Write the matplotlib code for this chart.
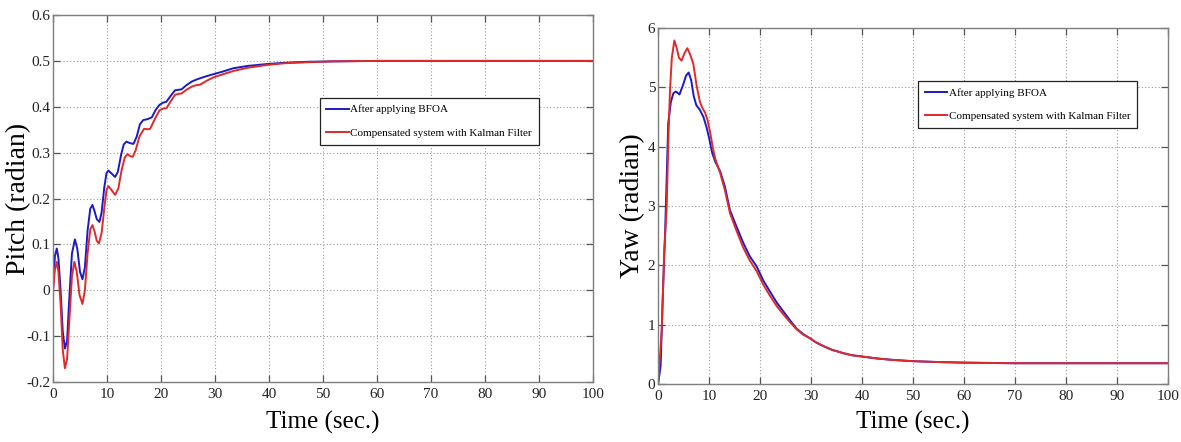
import matplotlib
matplotlib.use("Agg")
import matplotlib.pyplot as plt

# ---------------- data ----------------
pitch_t_blue = [0, 0.35, 0.7, 1.0, 1.4, 1.8, 2.2, 2.6, 3.0, 3.5, 4.05, 4.5, 5.0, 5.45, 5.9, 6.4,
                6.9, 7.3, 7.7, 8.1, 8.6, 9.0, 9.5, 9.9, 10.25, 10.8, 11.5, 12.0, 12.6, 13.1, 13.6,
                14.2, 14.9, 15.5, 16.1, 16.7, 17.5, 18.3, 19.0, 19.7, 20.4, 21.0, 21.8, 22.6, 23.2,
                23.8, 24.7, 25.7, 26.5, 27.2, 28.5, 29.7, 31.5, 33.4, 36, 39.5, 43, 47, 52, 60,
                70, 80, 90, 100]
pitch_blue = [0.0, 0.075, 0.091, 0.07, 0.0, -0.09, -0.127, -0.11, -0.02, 0.08, 0.111, 0.09, 0.04,
              0.024, 0.05, 0.13, 0.178, 0.186, 0.172, 0.155, 0.149, 0.17, 0.225, 0.255, 0.261,
              0.255, 0.247, 0.258, 0.295, 0.318, 0.324, 0.321, 0.319, 0.335, 0.362, 0.371, 0.373,
              0.377, 0.393, 0.404, 0.409, 0.411, 0.424, 0.436, 0.437, 0.438, 0.447, 0.455, 0.459,
              0.462, 0.467, 0.471, 0.477, 0.484, 0.489, 0.493, 0.496, 0.498, 0.499, 0.5,
              0.5, 0.5, 0.5, 0.5]

pitch_t_red = [0, 0.35, 0.7, 1.0, 1.4, 1.8, 2.2, 2.6, 3.0, 3.5, 3.95, 4.4, 4.9, 5.45, 5.9, 6.4,
               6.9, 7.3, 7.7, 8.1, 8.5, 9.0, 9.5, 9.9, 10.25, 10.8, 11.5, 12.1, 12.7, 13.3, 13.8,
               14.3, 14.75, 15.3, 16.0, 16.85, 17.5, 18.0, 18.8, 19.7, 20.4, 21.0, 21.8, 22.6,
               23.2, 23.8, 24.7, 25.7, 26.5, 27.2, 28.5, 29.7, 31.5, 33.4, 36, 39.5, 43, 47, 52,
               60, 70, 80, 90, 100]
pitch_red = [0.0, 0.045, 0.062, 0.04, -0.03, -0.13, -0.170, -0.15, -0.07, 0.03, 0.062, 0.04,
             -0.01, -0.030, 0.0, 0.08, 0.133, 0.142, 0.128, 0.108, 0.102, 0.125, 0.180, 0.218,
             0.227, 0.219, 0.208, 0.222, 0.262, 0.290, 0.297, 0.292, 0.291, 0.305, 0.335, 0.352,
             0.351, 0.352, 0.372, 0.392, 0.396, 0.397, 0.412, 0.426, 0.428, 0.429, 0.437, 0.444,
             0.447, 0.448, 0.457, 0.464, 0.471, 0.478, 0.485, 0.491, 0.495, 0.497, 0.499,
             0.5, 0.5, 0.5, 0.5, 0.5]

yaw_t_blue = [0, 0.5, 0.9, 1.4, 2.0, 2.5, 3.0, 3.5, 4.2, 4.9, 5.5, 6.0, 6.5, 7.0, 7.5, 8.2, 8.9,
              9.5, 10.0, 10.6, 11.2, 12.2, 13.1, 14.1, 15.4, 16.7, 18.0, 19.35, 20.6, 22.0, 23.3,
              24.6, 26.0, 27.2, 28.5, 29.8, 31, 32.4, 34, 36.3, 38, 40.3, 43, 45.5, 48, 50, 55,
              60, 65, 70, 80, 90, 100]
yaw_blue = [0, 0.3, 1.4, 2.6, 4.4, 4.75, 4.9, 4.93, 4.88, 5.04, 5.2, 5.25, 5.12, 4.85, 4.70,
            4.62, 4.50, 4.33, 4.15, 3.90, 3.75, 3.58, 3.33, 2.93, 2.65, 2.38, 2.15, 1.98, 1.75,
            1.55, 1.37, 1.22, 1.06, 0.93, 0.84, 0.77, 0.70, 0.64, 0.58, 0.52, 0.485, 0.46, 0.43,
            0.41, 0.395, 0.385, 0.37, 0.36, 0.355, 0.35, 0.35, 0.35, 0.35]

yaw_t_red = [0, 0.4, 0.72, 1.2, 1.7, 2.05, 2.35, 2.7, 3.2, 3.6, 4.1, 4.6, 5.2, 5.75, 6.3, 6.9,
             7.6, 8.2, 8.7, 9.2, 9.7, 10.2, 10.7, 11.2, 12.2, 13.1, 14.1, 15.4, 16.7, 18.0, 19.35,
             20.6, 22.0, 23.3, 24.6, 26.0, 27.2, 28.5, 29.8, 31, 32.4, 34, 36.3, 38, 40.3, 43,
             45.5, 48, 50, 55, 60, 65, 70, 80, 90, 100]
yaw_red = [0, 0.5, 0.9, 2.2, 3.0, 4.2, 4.96, 5.5, 5.79, 5.68, 5.50, 5.45, 5.58, 5.66, 5.55, 5.40,
           5.01, 4.76, 4.65, 4.58, 4.45, 4.25, 4.0, 3.80, 3.55, 3.27, 2.88, 2.58, 2.30, 2.08, 1.90,
           1.68, 1.48, 1.31, 1.17, 1.03, 0.92, 0.83, 0.77, 0.70, 0.64, 0.58, 0.52, 0.485, 0.46,
           0.43, 0.41, 0.395, 0.385, 0.37, 0.36, 0.355, 0.35, 0.35, 0.35, 0.35]

labels = ["After applying BFOA", "Compensated system with Kalman Filter"]
x_ticks = [0, 10, 20, 30, 40, 50, 60, 70, 80, 90, 100]
pitch_ticks = [-0.2, -0.1, 0, 0.1, 0.2, 0.3, 0.4, 0.5, 0.6]
pitch_ticklabels = ["-0.2", "-0.1", "0", "0.1", "0.2", "0.3", "0.4", "0.5", "0.6"]
yaw_ticks = [0, 1, 2, 3, 4, 5, 6]

# ---------------- style ----------------
BLUE = "#1a1ac8"
RED = "#e02a2a"
SERIF = "Liberation Serif"
plt.rcParams["font.family"] = SERIF

fig = plt.figure(figsize=(11.81, 4.42), dpi=100)
ax1 = fig.add_axes([0.0449, 0.1357, 0.4572, 0.8303])
ax2 = fig.add_axes([0.5572, 0.1312, 0.4318, 0.8054])


def style(ax):
    for sp in ax.spines.values():
        sp.set_color("#7f7f7f")
        sp.set_linewidth(1.0)
    ax.tick_params(direction="in", length=5, width=0.9, color="#555555",
                   top=True, right=True, labelsize=11, labelcolor="#222222")
    ax.tick_params(axis="y", pad=2)
    ax.tick_params(axis="x", pad=4)
    ax.grid(True, linestyle=(0, (1, 2)), color="#9a9a9a", linewidth=0.8)
    ax.set_axisbelow(True)


def add_legend(ax, anchor):
    leg = ax.legend(loc="upper left", bbox_to_anchor=anchor, fontsize=8.0,
                    frameon=True, fancybox=False, edgecolor="#222222", framealpha=1,
                    handlelength=2.0, handletextpad=0.15, labelspacing=1.25,
                    borderpad=0.6, borderaxespad=0)
    leg.get_frame().set_linewidth(0.9)
    return leg


# Pitch
ax1.plot(pitch_t_blue, pitch_blue, color=BLUE, lw=1.4, label=labels[0])
ax1.plot(pitch_t_red, pitch_red, color=RED, lw=1.4, label=labels[1])
ax1.set_xlim(0, 100)
ax1.set_ylim(-0.2, 0.6)
ax1.set_xticks(x_ticks)
ax1.set_yticks(pitch_ticks)
ax1.set_yticklabels(pitch_ticklabels)
style(ax1)
ax1.set_ylabel("Pitch (radian)", fontsize=20)
ax1.yaxis.set_label_coords(-0.041, 0.5)
ax1.set_xlabel("Time (sec.)", fontsize=18)
ax1.xaxis.set_label_coords(0.5, -0.08)
add_legend(ax1, (0.494, 0.774))

# Yaw
ax2.plot(yaw_t_blue, yaw_blue, color=BLUE, lw=1.4, label=labels[0])
ax2.plot(yaw_t_red, yaw_red, color=RED, lw=1.4, label=labels[1])
ax2.set_xlim(0, 100)
ax2.set_ylim(0, 6)
ax2.set_xticks(x_ticks)
ax2.set_yticks(yaw_ticks)
style(ax2)
ax2.set_ylabel("Yaw (radian)", fontsize=20)
ax2.yaxis.set_label_coords(-0.025, 0.5)
ax2.set_xlabel("Time (sec.)", fontsize=18)
ax2.xaxis.set_label_coords(0.5, -0.075)
add_legend(ax2, (0.51, 0.851))

fig.savefig("out.png", dpi=100)
